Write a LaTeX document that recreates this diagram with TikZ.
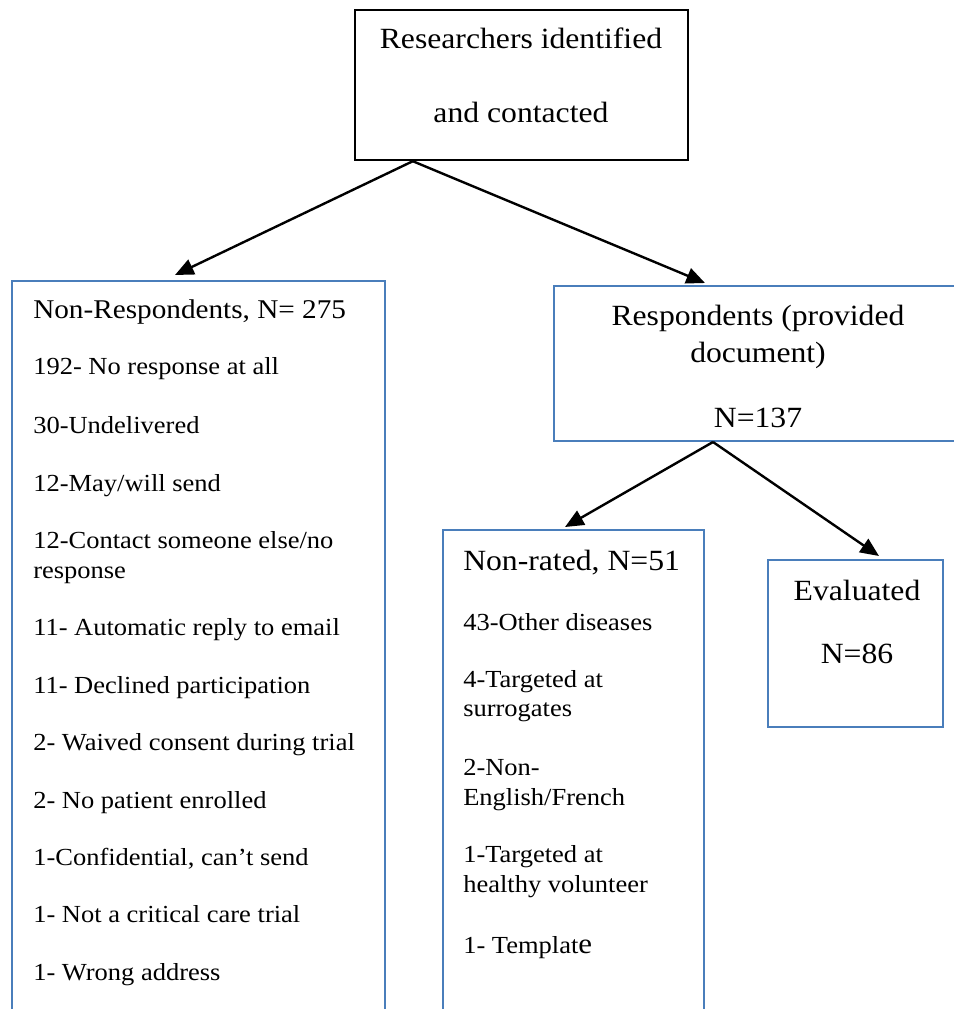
\documentclass[tikz,border=0pt]{standalone}
\usepackage{fontspec}
\setmainfont{Liberation Serif}[FakeStretch=1.08]
\usepackage{tikz}
\usetikzlibrary{positioning,calc,arrows.meta,fit}
\usepackage{xcolor}
\definecolor{boxblue}{HTML}{4A7EBB}

\begin{document}
\begin{tikzpicture}[x=0.75pt,y=-0.75pt,
    bx/.style={draw=boxblue,line width=1.5pt,inner sep=0pt},
    big/.style={inner sep=0pt,font=\fontsize{22}{26}\selectfont},
    sm/.style={inner sep=0pt,anchor=base west,font=\fontsize{18.4}{22}\selectfont},
    arr/.style={-{Triangle[length=14pt,width=12pt]},line width=1.8pt}]

\useasboundingbox (0,0) rectangle (953,1009);

\node[bx,draw=black,line width=1.8pt,fit={(355,10) (688,160)}] (top) {};
\node[big,anchor=base] (topa) at (521,49) {Researchers identified};
\node[big,anchor=base] (topb) at (521,123) {and contacted};

\node[bx,fit={(12,281) (385,1012)}] (nr) {};
\node[big,anchor=base west,font=\fontsize{20.3}{24}\selectfont] (nrh) at (33,318) {Non-Respondents, N= 275};
\node[sm] (nr1) at (33,374) {192- No response at all};
\node[sm] (nr2) at (33,433) {30-Undelivered};
\node[sm] (nr3) at (33,491) {12-May/will send};
\node[sm] (nr4) at (33,548) {12-Contact someone else/no};
\node[sm] (nr4b) at (33,578) {response};
\node[sm] (nr5) at (33,635) {11- Automatic reply to email};
\node[sm] (nr6) at (33,693) {11- Declined participation};
\node[sm] (nr7) at (33,750) {2- Waived consent during trial};
\node[sm] (nr8) at (33,808) {2- No patient enrolled};
\node[sm] (nr9) at (33,865) {1-Confidential, can’t send};
\node[sm] (nr10) at (33,922) {1- Not a critical care trial};
\node[sm] (nr11) at (33,980) {1- Wrong address};

\node[bx,fit={(554,286) (956,441)}] (resp) {};
\node[big,anchor=base] (respa) at (758,325) {Respondents (provided};
\node[big,anchor=base] (respb) at (758,362) {document)};
\node[big,anchor=base] (respc) at (758,427) {N=137};

\node[bx,fit={(443,530) (704,1012)}] (nrt) {};
\node[big,anchor=base west] (nrth) at (463,570) {Non-rated, N=51};
\node[sm] (nrt1) at (463,630) {43-Other diseases};
\node[sm] (nrt2) at (463,687) {4-Targeted at};
\node[sm] (nrt2b) at (463,716) {surrogates};
\node[sm] (nrt3) at (463,775) {2-Non-};
\node[sm] (nrt3b) at (463,805) {English/French};
\node[sm] (nrt4) at (463,862) {1-Targeted at};
\node[sm] (nrt4b) at (463,892) {healthy volunteer};
\node[sm] (nrt5) at (463,953) {1- Templat{\fontsize{21.5}{26}\selectfont e}};

\node[bx,fit={(768,560) (943,727)}] (ev) {};
\node[big,anchor=base] (eva) at (857,600) {Evaluated};
\node[big,anchor=base] (evb) at (857,663) {N=86};

\draw[arr] ($(top.south west)+(59,0)$) -- ($(nr.north west)+(164,-5)$);
\draw[arr] ($(top.south west)+(59,0)$) -- ($(resp.north west)+(152,-2)$);
\draw[arr] ($(resp.south west)+(160,0)$) -- ($(nrt.north west)+(123,-2)$);
\draw[arr] ($(resp.south west)+(160,0)$) -- ($(ev.north west)+(112,-3)$);

\end{tikzpicture}
\end{document}
